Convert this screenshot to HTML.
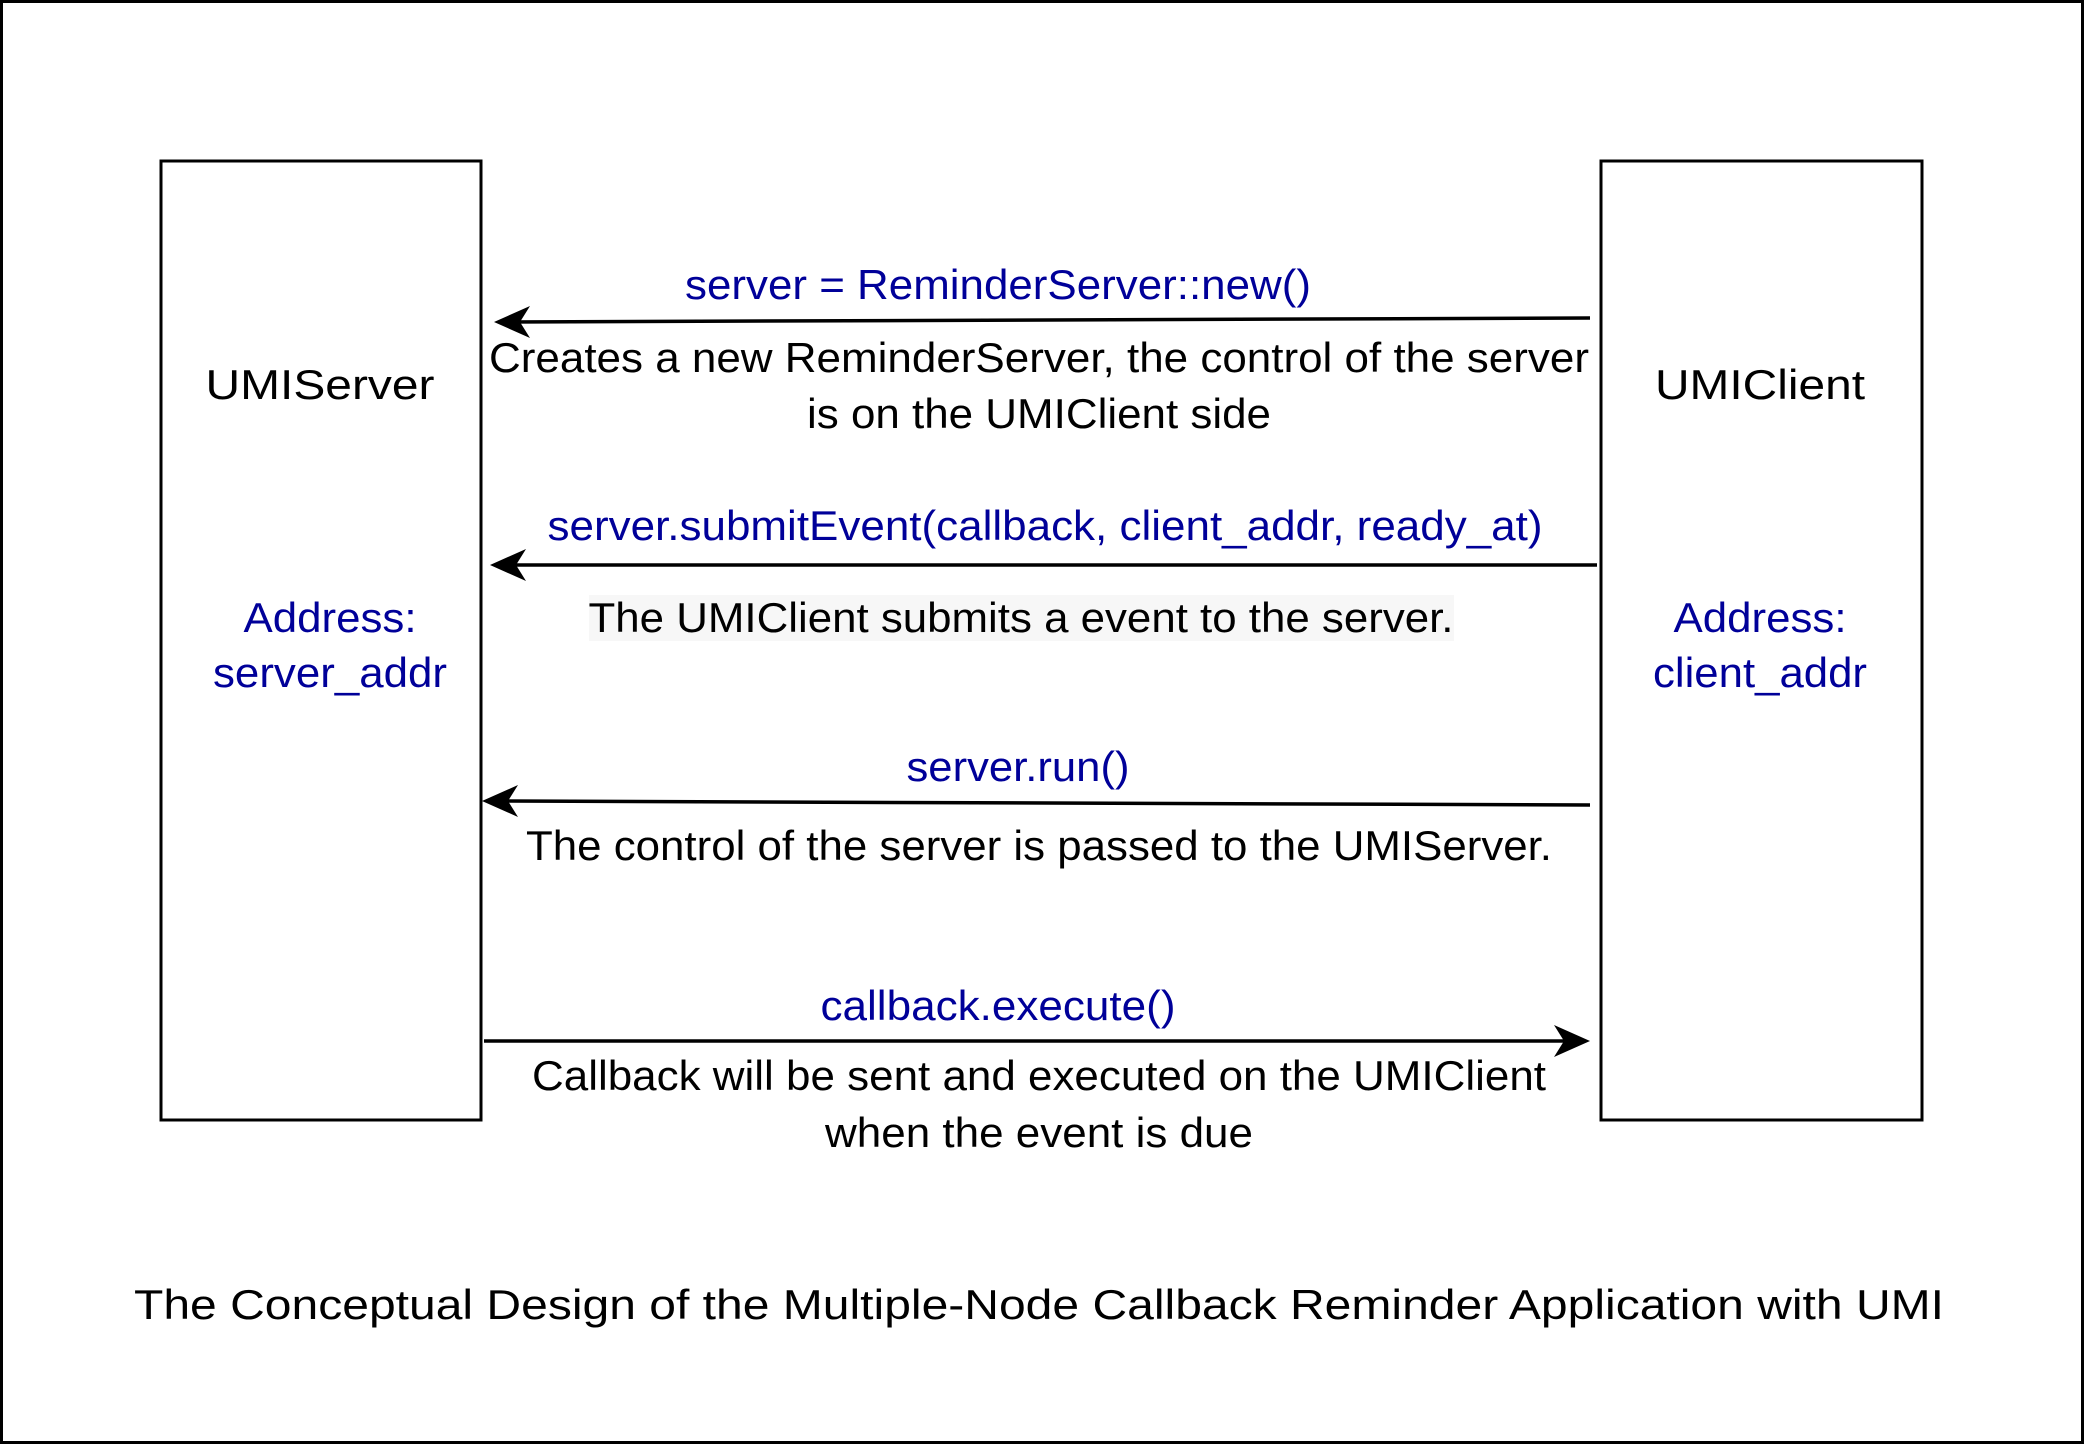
<!DOCTYPE html>
<html><head><meta charset="utf-8"><style>
html,body{margin:0;padding:0;background:#fff;}
svg{display:block;}
text{font-family:"Liberation Sans",Arial,sans-serif;}
.b{fill:#000099;font-size:42px;}
.k{fill:#000;font-size:42px;}
</style></head><body>
<svg width="2084" height="1444" viewBox="0 0 2084 1444" xmlns="http://www.w3.org/2000/svg">
<rect x="1.5" y="1.5" width="2081" height="1441" fill="#fff" stroke="#000" stroke-width="3"/>
<rect x="161" y="161" width="320" height="959" fill="#fff" stroke="#000" stroke-width="3"/>
<rect x="1601" y="161" width="321" height="959" fill="#fff" stroke="#000" stroke-width="3"/>
<g text-anchor="middle">
<text class="k" x="320" y="399" font-size="48" textLength="229" lengthAdjust="spacingAndGlyphs">UMIServer</text>
<text class="k" x="1760" y="399" font-size="48" textLength="210" lengthAdjust="spacingAndGlyphs">UMIClient</text>
<text class="b" x="330" y="632" textLength="173" lengthAdjust="spacingAndGlyphs">Address:</text>
<text class="b" x="330" y="687" textLength="234" lengthAdjust="spacingAndGlyphs">server_addr</text>
<text class="b" x="1760" y="632" textLength="173" lengthAdjust="spacingAndGlyphs">Address:</text>
<text class="b" x="1760" y="687" textLength="214" lengthAdjust="spacingAndGlyphs">client_addr</text>
</g>
<g stroke="#000" stroke-width="3.5" fill="none">
<line x1="1590" y1="318" x2="505" y2="322"/>
<line x1="1597" y1="565" x2="502" y2="565"/>
<line x1="1590" y1="805" x2="494" y2="801"/>
<line x1="484" y1="1041" x2="1578" y2="1041"/>
</g>
<g fill="#000">
<path d="M494 322 L530 306 L520 322 L530 338 Z"/>
<path d="M490 565 L526 549 L516 565 L526 581 Z"/>
<path d="M482 801 L518 785 L508 801 L518 817 Z"/>
<path d="M1590 1041 L1554 1025 L1564 1041 L1554 1057 Z"/>
</g>
<rect x="589" y="595" width="865" height="46" fill="#f7f7f7"/>
<g text-anchor="middle">
<text class="b" x="998" y="299" textLength="626" lengthAdjust="spacingAndGlyphs">server = ReminderServer::new()</text>
<text class="k" x="1039" y="372" textLength="1100" lengthAdjust="spacingAndGlyphs">Creates a new ReminderServer, the control of the server</text>
<text class="k" x="1039" y="428" textLength="464" lengthAdjust="spacingAndGlyphs">is on the UMIClient side</text>
<text class="b" x="1045" y="540" textLength="995" lengthAdjust="spacingAndGlyphs">server.submitEvent(callback, client_addr, ready_at)</text>
<text class="k" x="1021" y="632" textLength="865" lengthAdjust="spacingAndGlyphs">The UMIClient submits a event to the server.</text>
<text class="b" x="1018" y="781" textLength="223" lengthAdjust="spacingAndGlyphs">server.run()</text>
<text class="k" x="1039" y="860" textLength="1026" lengthAdjust="spacingAndGlyphs">The control of the server is passed to the UMIServer.</text>
<text class="b" x="998" y="1020" textLength="355" lengthAdjust="spacingAndGlyphs">callback.execute()</text>
<text class="k" x="1039" y="1090" textLength="1014" lengthAdjust="spacingAndGlyphs">Callback will be sent and executed on the UMIClient</text>
<text class="k" x="1039" y="1147" textLength="428" lengthAdjust="spacingAndGlyphs">when the event is due</text>
<text class="k" x="1039" y="1319" font-size="48" textLength="1810" lengthAdjust="spacingAndGlyphs">The Conceptual Design of the Multiple-Node Callback Reminder Application with UMI</text>
</g>
</svg>
</body></html>
